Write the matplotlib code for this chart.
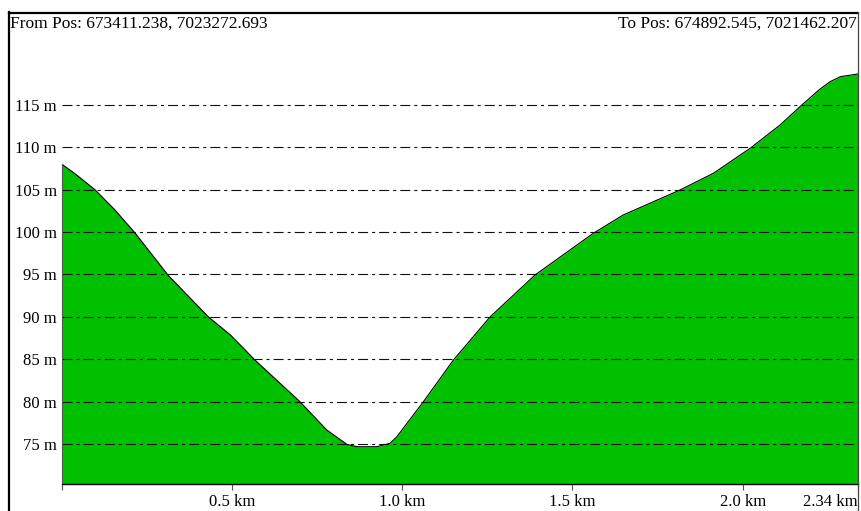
import matplotlib
matplotlib.use("Agg")
import matplotlib.pyplot as plt
from matplotlib.lines import Line2D

# Elevation profile between the two positions
distance_km = [0.000, 0.038, 0.097, 0.156, 0.2145, 0.312, 0.430, 0.494, 0.538, 0.567,
               0.699, 0.778, 0.837, 0.866, 0.925, 0.964, 0.984, 1.062, 1.150, 1.258,
               1.390, 1.561, 1.649, 1.816, 1.914, 2.022, 2.110, 2.174, 2.225, 2.257, 2.287, 2.339]
elevation_m = [108.0, 106.9, 105.0, 102.6, 99.9, 94.9, 90.0, 87.9, 86.1, 84.9,
               80.0, 76.65, 74.96, 74.68, 74.68, 75.08, 75.86, 79.99, 84.9, 90.0,
               94.94, 99.86, 102.02, 104.97, 106.94, 109.89, 112.64, 115.0, 116.8, 117.75, 118.34, 118.66]

y_ticks = [75, 80, 85, 90, 95, 100, 105, 110, 115]
y_tick_labels = [f"{v} m" for v in y_ticks]
x_ticks = [0.0, 0.5, 1.0, 1.5, 2.0, 2.339]
x_tick_labels = ["", "0.5 km", "1.0 km", "1.5 km", "2.0 km", "2.34 km"]

from_label = "From Pos: 673411.238, 7023272.693"
to_label = "To Pos: 674892.545, 7021462.207"

plt.rcParams["font.family"] = ["Liberation Serif", "DejaVu Serif"]
plt.rcParams["lines.scale_dashes"] = False

W, H = 861, 511
fig = plt.figure(figsize=(W / 100, H / 100), dpi=100)
fig.patch.set_facecolor("white")

def px(x, y):
    return x / W, 1 - y / H

# plot area in pixel terms
L, R, T, B = 62, 858, 40, 484
ax = fig.add_axes([L / W, (H - B) / H, (R - L) / W, (B - T) / H])
ax.set_facecolor("none")

px_per_m = 8.475
y_lo = 75 - (B - 444) / px_per_m
y_hi = 75 + (444 - T) / px_per_m
ax.set_ylim(y_lo, y_hi)
ax.set_xlim(0, distance_km[-1])

ax.fill_between(distance_km, elevation_m, y_lo, color="#00c000", linewidth=0, zorder=1)
ax.plot(distance_km, elevation_m, color="black", linewidth=0.8, zorder=2)

# dash-dot grid lines
for v in y_ticks:
    ax.axhline(v, color="#111111", linewidth=0.8, dashes=(7.2, 2.9, 2.2, 2.9), zorder=3)

for s in ["top", "right"]:
    ax.spines[s].set_visible(False)
ax.spines["left"].set_bounds(y_lo, elevation_m[0])
ax.spines["left"].set_color("#555555")
ax.spines["left"].set_linewidth(0.8)
ax.spines["bottom"].set_color("black")
ax.spines["bottom"].set_linewidth(1.0)
ax.spines["left"].set_zorder(4)
ax.spines["bottom"].set_zorder(4)

ax.set_yticks(y_ticks)
ax.set_yticklabels(y_tick_labels)
ax.tick_params(axis="y", length=0, pad=3.8, labelsize=12, colors="black")

ax.set_xticks(x_ticks)
ax.set_xticklabels(x_tick_labels)
ax.tick_params(axis="x", length=4.5, width=0.8, color="#555555", pad=2.5, labelsize=12,
               labelcolor="black", direction="out")
ax.get_xticklabels()[-1].set_horizontalalignment("right")

# outer frame
fig.add_artist(Line2D([8.5 / W, 858 / W], [1 - 13 / H, 1 - 13 / H], color="black", linewidth=1.6,
                      transform=fig.transFigure))
fig.add_artist(Line2D([9 / W, 9 / W], [1 - 12 / H, 0], color="black", linewidth=1.6,
                      transform=fig.transFigure))
fig.add_artist(Line2D([858 / W, 858 / W], [1 - 12 / H, 0], color="#444444", linewidth=0.9,
                      transform=fig.transFigure))

fig.text(*px(10, 24), from_label, ha="left", va="center", fontsize=12.5, color="black")
fig.text(*px(857, 24), to_label, ha="right", va="center", fontsize=12.5, color="black")

fig.savefig("out.png", dpi=100)
